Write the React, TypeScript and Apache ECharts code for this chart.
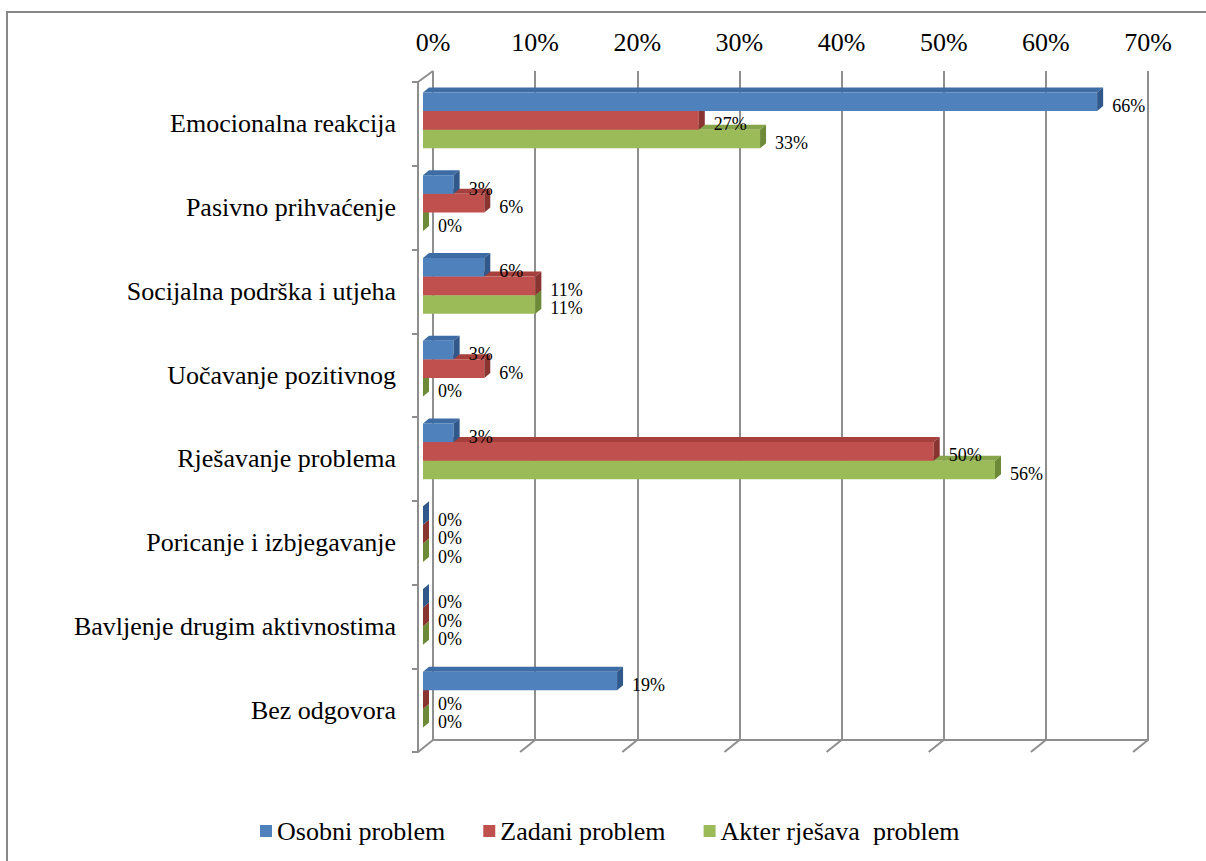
import React, { useEffect, useRef } from "react";
import * as echarts from "echarts";

const categories = [
  "Emocionalna reakcija",
  "Pasivno prihvaćenje",
  "Socijalna podrška i utjeha",
  "Uočavanje pozitivnog",
  "Rješavanje problema",
  "Poricanje i izbjegavanje",
  "Bavljenje drugim aktivnostima",
  "Bez odgovora",
];
const seriesNames = ["Osobni problem", "Zadani problem", "Akter rješava  problem"];
const osobni = [66, 3, 6, 3, 3, 0, 0, 19];
const zadani = [27, 6, 11, 6, 50, 0, 0, 0];
const akter = [33, 0, 11, 0, 56, 0, 0, 0];
const xTicks = [0, 10, 20, 30, 40, 50, 60, 70];

const FONT = '"Liberation Serif", "Times New Roman", serif';
const GRID_COLOR = "#8e8e8e";
const front = ["#4F81BD", "#C0504D", "#9BBB59"];
const topC = ["#3e6ca4", "#a5403d", "#86a54b"];
const sideC = ["#30588a", "#8a3431", "#6c8a37"];

function makeRender(si: number) {
  return (params: any, api: any) => {
    const v = api.value(0);
    const cat = api.value(1);
    const start = api.coord([0, cat]);
    const end = api.coord([v, cat]);
    const band = api.size([0, 1])[1];
    const h = band * 0.225;
    const yTop = start[1] - 1.5 * h + si * h;
    const x0 = start[0];
    const x1 = end[0];
    const dx = 6;
    const dy = 5;
    return {
      type: "group",
      children: [
        {
          type: "polygon",
          shape: { points: [[x0, yTop], [x1, yTop], [x1 + dx, yTop - dy], [x0 + dx, yTop - dy]] },
          style: { fill: topC[si] },
        },
        {
          type: "rect",
          shape: { x: x0, y: yTop, width: Math.max(0, x1 - x0), height: h },
          style: { fill: front[si] },
        },
        {
          type: "polygon",
          shape: { points: [[x1, yTop], [x1 + dx, yTop - dy], [x1 + dx, yTop + h - dy], [x1, yTop + h]] },
          style: { fill: sideC[si] },
        },
        {
          type: "text",
          x: x1 + 15,
          y: yTop + h / 2 + 4,
          style: {
            text: v + "%",
            fill: "#000",
            font: `18px ${FONT}`,
            verticalAlign: "middle",
            align: "left",
          },
          z2: 10,
        },
      ],
    };
  };
}

export default function App() {
  const ref = useRef<HTMLDivElement>(null);
  useEffect(() => {
    const chart = echarts.init(ref.current!, null, { renderer: "svg" });
    const seriesData = [osobni, zadani, akter];
    const barSeries = seriesData.map((arr, si) => ({
      name: seriesNames[si],
      type: "custom",
      xAxisIndex: 1,
      yAxisIndex: 1,
      clip: false,
      z: 5 - si,
      itemStyle: { color: front[si] },
      encode: { x: 0, y: 1 },
      data: arr.map((v, i) => [v, i]),
      renderItem: makeRender(si),
    }));
    chart.setOption({
      animation: false,
      color: front,
      textStyle: { fontFamily: FONT },
      graphic: [
        {
          type: "rect",
          shape: { x: 7, y: 12, width: 1230, height: 900 },
          style: { fill: "none", stroke: "#888", lineWidth: 2 },
          silent: true,
        },
      ],
      legend: {
        data: seriesNames,
        left: 255,
        top: 813,
        icon: "rect",
        itemWidth: 12,
        itemHeight: 12,
        itemGap: 38,
        textStyle: { fontSize: 26, color: "#000", fontFamily: FONT },
      },
      grid: [
        { left: 433, right: 58, top: 71, bottom: 121 },
        { left: 423, right: 68, top: 79, bottom: 120 },
        { left: 418, right: 58, top: 82, bottom: 109 },
      ],
      xAxis: [
        {
          gridIndex: 0,
          type: "value",
          position: "top",
          min: 0,
          max: 70,
          interval: 10,
          axisLine: { show: true, lineStyle: { color: GRID_COLOR, width: 2 } },
          axisTick: { show: true, length: 8, lineStyle: { color: GRID_COLOR, width: 2 } },
          splitLine: { show: true, lineStyle: { color: GRID_COLOR, width: 2 } },
          axisLabel: { formatter: "{value}%", fontSize: 26, color: "#000", margin: 16, fontFamily: FONT },
        },
        { gridIndex: 1, type: "value", min: 0, max: 70, show: false },
        { gridIndex: 2, type: "value", min: 0, max: 70, show: false },
      ],
      yAxis: [
        { gridIndex: 0, type: "value", min: 0, max: 1, show: false },
        { gridIndex: 1, type: "category", data: categories, inverse: true, show: false },
        {
          gridIndex: 2,
          type: "category",
          data: categories,
          inverse: true,
          axisLine: { show: true, lineStyle: { color: GRID_COLOR, width: 2 } },
          axisTick: { show: true, length: 6, lineStyle: { color: GRID_COLOR, width: 2 } },
          axisLabel: { fontSize: 26, color: "#000", margin: 22, fontFamily: FONT },
        },
      ],
      series: [
        {
          type: "custom",
          name: "floor",
          xAxisIndex: 0,
          yAxisIndex: 0,
          clip: false,
          silent: true,
          encode: { x: 0 },
          data: xTicks.map((t) => [t]),
          renderItem: (params: any, api: any) => {
            const t = api.value(0);
            const b = api.coord([t, 0]);
            const children: any[] = [
              {
                type: "line",
                shape: { x1: b[0], y1: b[1], x2: b[0] - 15, y2: b[1] + 12 },
                style: { stroke: GRID_COLOR, lineWidth: 2 },
              },
            ];
            if (t === 0) {
              const tp = api.coord([t, 1]);
              children.push({
                type: "line",
                shape: { x1: tp[0], y1: tp[1], x2: tp[0] - 15, y2: tp[1] + 11 },
                style: { stroke: GRID_COLOR, lineWidth: 2 },
              });
            }
            return { type: "group", children };
          },
        },
        ...barSeries,
      ],
    });
    return () => chart.dispose();
  }, []);
  return (
    <div
      ref={ref}
      style={{ position: "absolute", left: 0, top: 0, width: 1206, height: 861 }}
    />
  );
}
